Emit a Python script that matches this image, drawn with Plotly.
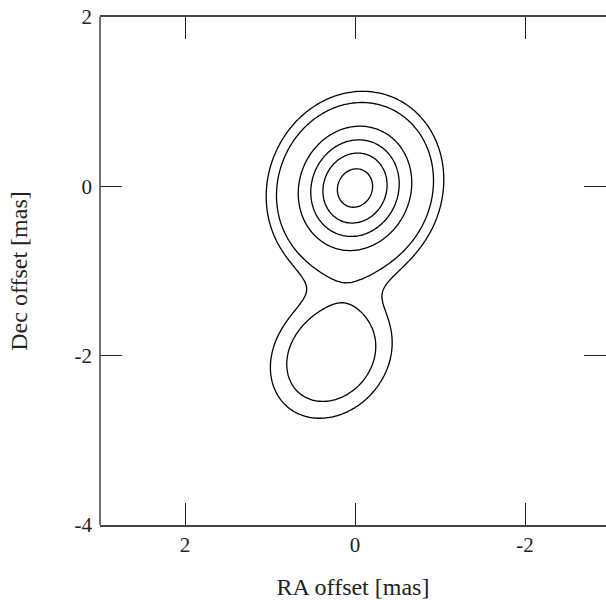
import numpy as np
import plotly.graph_objects as go

# Gaussian model components (mas, relative flux)
comp_x = [0.00, 0.28]          # RA offset of component centre
comp_y = [-0.02, -2.00]        # Dec offset of component centre
comp_peak = [100.0, 25.2]      # peak brightness (arbitrary units)
comp_major = [0.51, 0.51]      # sigma along major axis (mas)
comp_minor = [0.45, 0.42]      # sigma along minor axis (mas)
comp_angle = [22.0, 40.0]      # tilt of major axis (deg, top toward west)

# contour levels (same units as peaks)
levels = [7.5, 13.2, 34.7, 52.6, 71.3, 90.3]

x_tick_vals = [2, 0, -2]
x_tick_text = ["2", "0", "-2"]
y_tick_vals = [2, 0, -2, -4]
y_tick_text = ["2", "0", "-2", "-4"]

gx = np.linspace(-3.2, 3.2, 321)
gy = np.linspace(-4.2, 2.2, 321)
X, Y = np.meshgrid(gx, gy)
Z = np.zeros_like(X)
for x0, y0, pk, sa, sb, ang in zip(comp_x, comp_y, comp_peak, comp_major, comp_minor, comp_angle):
    a = np.radians(ang)
    dx, dy = X - x0, Y - y0
    p = -dx * np.sin(a) + dy * np.cos(a)
    q = dx * np.cos(a) + dy * np.sin(a)
    Z += pk * np.exp(-0.5 * ((p / sa) ** 2 + (q / sb) ** 2))

fig = go.Figure()
for lv in levels:
    fig.add_trace(go.Contour(
        x=gx, y=gy, z=Z,
        autocontour=False,
        contours=dict(start=lv, end=lv, size=1, coloring="lines", showlabels=False),
        line=dict(color="black", width=1.3, smoothing=1),
        colorscale=[[0, "black"], [1, "black"]],
        showscale=False, hoverinfo="skip",
    ))

font = "Liberation Serif, Times New Roman, serif"
fig.update_layout(
    width=606, height=600,
    margin=dict(l=100, r=0, t=17, b=75),
    paper_bgcolor="white", plot_bgcolor="white",
    showlegend=False,
    font=dict(family=font, size=21, color="#222"),
    xaxis=dict(
        range=[3, -2.953], tickvals=x_tick_vals, ticktext=x_tick_text,
        showgrid=False, zeroline=False,
        showline=True, linecolor="#444", linewidth=1.5, mirror="ticks",
        ticks="inside", ticklen=22, tickwidth=1.2, tickcolor="#222",
        tickfont=dict(family=font, size=21, color="#222"),
        title=dict(text="RA offset [mas]", font=dict(family=font, size=24, color="#222"), standoff=23),
    ),
    yaxis=dict(
        range=[-4, 2], tickvals=y_tick_vals, ticktext=y_tick_text,
        showgrid=False, zeroline=False,
        showline=False, mirror="ticks",
        ticks="inside", ticklen=22, tickwidth=1.2, tickcolor="#222",
        ticklabelstandoff=7,
        tickfont=dict(family=font, size=21, color="#222"),
        title=dict(text="Dec offset [mas]", font=dict(family=font, size=24, color="#222"), standoff=40),
    ),
    shapes=[dict(type="line", xref="paper", yref="paper", x0=0, x1=0, y0=0, y1=1,
                 line=dict(color="#444", width=1.5))],
)

fig.write_html("out.html")
